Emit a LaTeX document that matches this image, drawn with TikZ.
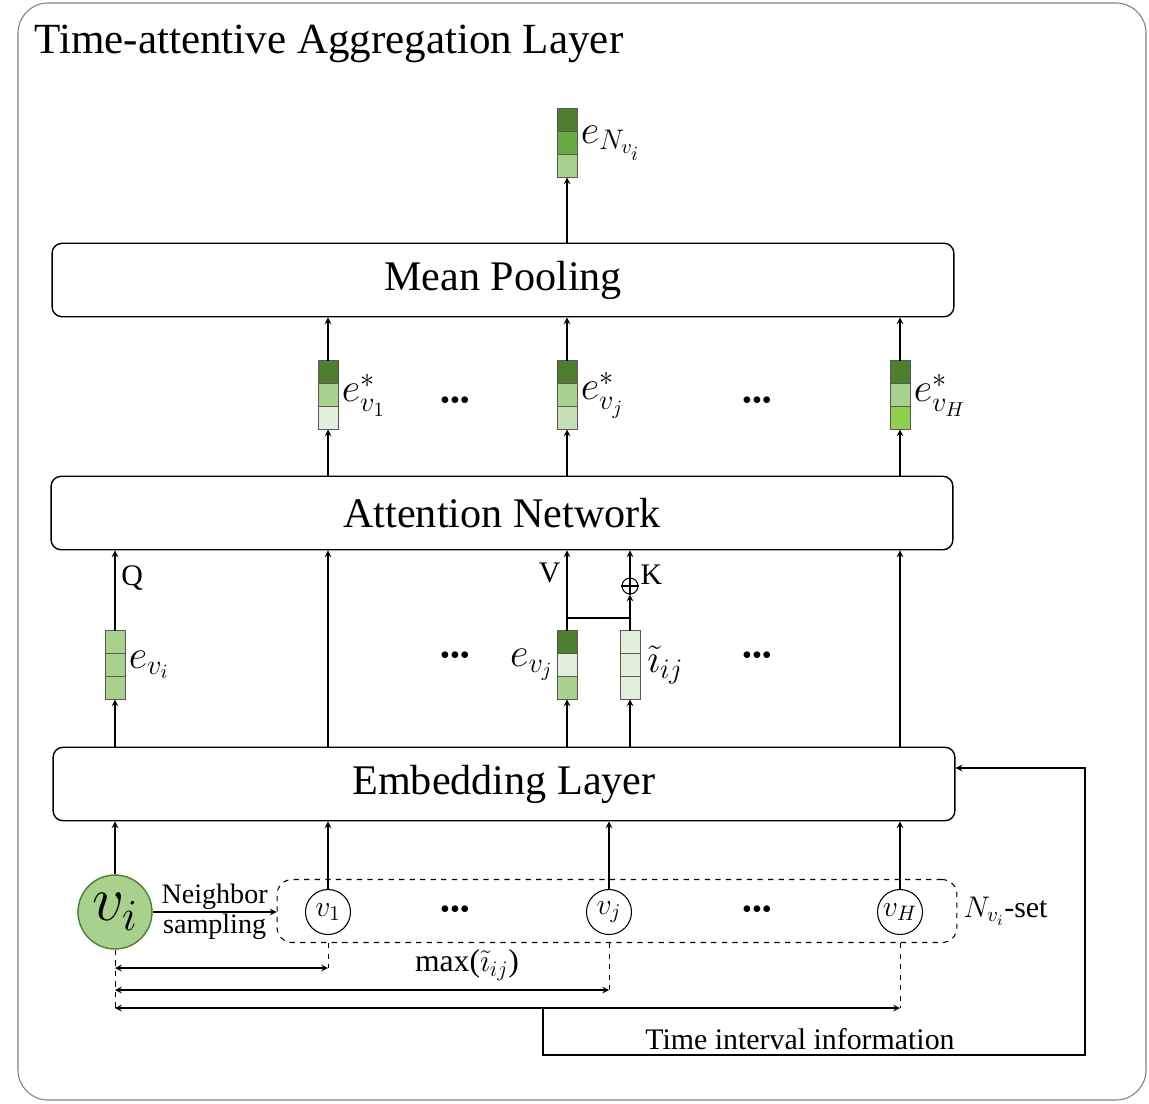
\documentclass[tikz,border=0pt]{standalone}
\usepackage{fix-cm}
\usepackage{amsmath}
\usepackage{fontspec}
\setmainfont{Liberation Serif}
\usetikzlibrary{calc}
\definecolor{darkg}{HTML}{4E7F30}
\definecolor{midg}{HTML}{6AAA45}
\definecolor{lightg}{HTML}{A9D18E}
\definecolor{paleg}{HTML}{C5E0B4}
\definecolor{vpaleg}{HTML}{E2EFDA}
\definecolor{brightg}{HTML}{8FD14F}
\tikzset{
  layer/.style={draw, rounded corners=0.2cm, minimum width=18.04cm, minimum height=1.47cm,
    line width=0.8pt, font=\fontsize{24}{28}\selectfont},
  vec/.style={minimum width=0.4cm, minimum height=1.38cm, inner sep=0pt, outer sep=0pt},
  vecline/.style={draw=black!65, line width=0.5pt},
  nb/.style={draw, circle, minimum size=0.9cm, inner sep=0pt, line width=0.6pt,
    font=\fontsize{17}{20}\selectfont},
  lab/.style={font=\fontsize{23}{26}\selectfont, inner sep=2pt},
  dots/.style={font=\fontsize{16}{18}\selectfont},
  small/.style={font=\fontsize{17}{20}\selectfont},
  conn/.style={-stealth, line width=0.7pt},
}
% three-cell embedding vector: name, position, colours from top to bottom
\newcommand\cellvec[5]{%
  \node[vec] (#1) at (#2) {};
  \fill[#3] (#1.north west) rectangle ([yshift=-0.46cm]#1.north east);
  \fill[#4] ([yshift=-0.46cm]#1.north west) rectangle ([yshift=0.46cm]#1.south east);
  \fill[#5] ([yshift=0.46cm]#1.south west) rectangle (#1.south east);
  \draw[vecline] (#1.north west) rectangle (#1.south east);
  \draw[vecline] ([yshift=-0.46cm]#1.north west) -- ([yshift=-0.46cm]#1.north east);
  \draw[vecline] ([yshift=0.46cm]#1.south west) -- ([yshift=0.46cm]#1.south east);
}
\begin{document}
\begin{tikzpicture}[x=0.02cm,y=-0.02cm]
  \useasboundingbox (0,0) rectangle (1149,1103);
  \draw[black!50, line width=0.6pt, rounded corners=0.6cm] (18,3) rectangle (1146,1100);
  \node[anchor=base west, font=\fontsize{24.5}{28}\selectfont, inner sep=0pt] (title) at (34,53)
    {Time-attentive Aggregation Layer};

  % layers
  \node[layer] (pool) at (503,280) {Mean Pooling};
  \node[layer] (att) at (502,513) {Attention Network};
  \node[layer] (emb) at (504,784) {Embedding Layer};

  % output vectors
  \cellvec{eout}{567,143}{darkg}{midg}{lightg}
  \node[lab, right] at (eout.east) {$e_{N_{v_i}}$};
  \cellvec{es1}{328,395}{darkg}{lightg}{vpaleg}
  \node[lab, right] at (es1.east) {$e^*_{v_1}$};
  \cellvec{esj}{567,395}{darkg}{lightg}{paleg}
  \node[lab, right] at (esj.east) {$e^*_{v_j}$};
  \cellvec{esh}{900,395}{darkg}{lightg}{brightg}
  \node[lab, right] at (esh.east) {$e^*_{v_H}$};
  \node[dots] (dt1) at (455,403) {\textbullet\textbullet\textbullet};
  \node[dots] (dt2) at (757,403) {\textbullet\textbullet\textbullet};

  \draw[conn] (pool.north -| eout) -- (eout.south);
  \foreach \v in {es1,esj,esh} {
    \draw[conn] (att.north -| \v) -- (\v.south);
    \draw[conn] (\v.north) -- (pool.south -| \v);
  }

  % input vectors
  \cellvec{evi}{115,665}{lightg}{lightg}{lightg}
  \node[lab, right] at (evi.east) {$e_{v_i}$};
  \cellvec{evj}{567,665}{darkg}{vpaleg}{lightg}
  \node[lab, left] at (evj.west) {$e_{v_j}$};
  \cellvec{iij}{630,665}{vpaleg}{vpaleg}{vpaleg}
  \node[lab, right, xshift=2pt] at (iij.east) {$\tilde{\imath}_{ij}$};
  \node[dots] (dt3) at (455,658) {\textbullet\textbullet\textbullet};
  \node[dots] (dt4) at (757,658) {\textbullet\textbullet\textbullet};
  \node[draw, circle, minimum size=0.32cm, inner sep=0pt, line width=0.6pt] (plus) at (630,586) {};
  \draw[line width=0.6pt] (plus.north) -- (plus.south) (plus.west) -- (plus.east);
  \coordinate (kj) at (630,618);

  % nodes
  \node[draw=darkg, fill=lightg, circle, minimum size=1.48cm, inner sep=0pt, line width=0.8pt,
    font=\fontsize{36}{40}\selectfont] (vi) at (115,912) {$v_i$};
  \node[draw, dashed, rounded corners=0.3cm, minimum width=13.6cm, minimum height=1.26cm,
    line width=0.6pt] (nset) at (617,911) {};
  \node[small, right] at (nset.east) {$N_{v_i}$-set};
  \node[nb] (v1) at (328,912) {$v_1$};
  \node[nb] (vj) at (609,912) {$v_j$};
  \node[nb] (vh) at (900,912) {$v_H$};
  \node[dots] (dt5) at (455,912) {\textbullet\textbullet\textbullet};
  \node[dots] (dt6) at (757,912) {\textbullet\textbullet\textbullet};

  % embedding to attention
  \draw[conn] (emb.north -| evi) -- (evi.south);
  \draw[conn] (evi.north) -- (att.south -| evi) node[pos=0.66, right, small] {Q};
  \draw[conn] (emb.north -| v1) -- (att.south -| v1);
  \draw[conn] (emb.north -| vh) -- (att.south -| vh);
  \draw[conn] (emb.north -| evj) -- (evj.south);
  \draw[conn] (emb.north -| iij) -- (iij.south);
  \draw[conn] (evj.north) -- (att.south -| evj) node[pos=0.72, left, small] {V};
  \draw[line width=0.7pt] (evj.north |- kj) -- (kj);
  \draw[conn] (iij.north) -- (plus.south);
  \draw[conn] (plus.north) -- (att.south -| plus);
  \node[small, anchor=west, inner sep=1pt] at ([yshift=0.22cm]plus.east) {K};

  % nodes to embedding
  \foreach \n in {vi,v1,vj,vh}
    \draw[conn] (\n.north) -- (emb.south -| \n);
  \draw[conn] (vi.east) -- (vi.east -| nset.west)
    node[midway, above, font=\fontsize{16}{19}\selectfont, inner sep=1pt] {Neighbor}
    node[midway, below, font=\fontsize{16}{19}\selectfont, inner sep=1pt] {sampling};

  % time intervals
  \coordinate (m1) at (328,968);
  \coordinate (m2) at (609,990);
  \coordinate (m3) at (900,1008);
  \draw[dashed, line width=0.5pt] (vi.south) -- (vi |- m3);
  \draw[dashed, line width=0.5pt] (v1 |- nset.south) -- (m1);
  \draw[dashed, line width=0.5pt] (vj |- nset.south) -- (m2);
  \draw[dashed, line width=0.5pt] (vh |- nset.south) -- (m3);
  \foreach \m in {m1,m2,m3}
    \draw[stealth-stealth, line width=0.7pt] (vi |- \m) -- (\m);
  \node[font=\fontsize{18}{21}\selectfont, inner sep=1pt] (mx) at (467,965) {max($\tilde{\imath}_{ij}$)};

  % feedback of time interval information
  \coordinate (ti) at (543,1008);
  \coordinate (fb) at (1085,768);
  \draw[conn] (ti) -- (543,1055) -- (1085,1055) -- (fb) -- (emb.east |- fb);
  \node[small, inner sep=1pt] (tii) at (800,1039) {Time interval information};
\end{tikzpicture}
\end{document}
